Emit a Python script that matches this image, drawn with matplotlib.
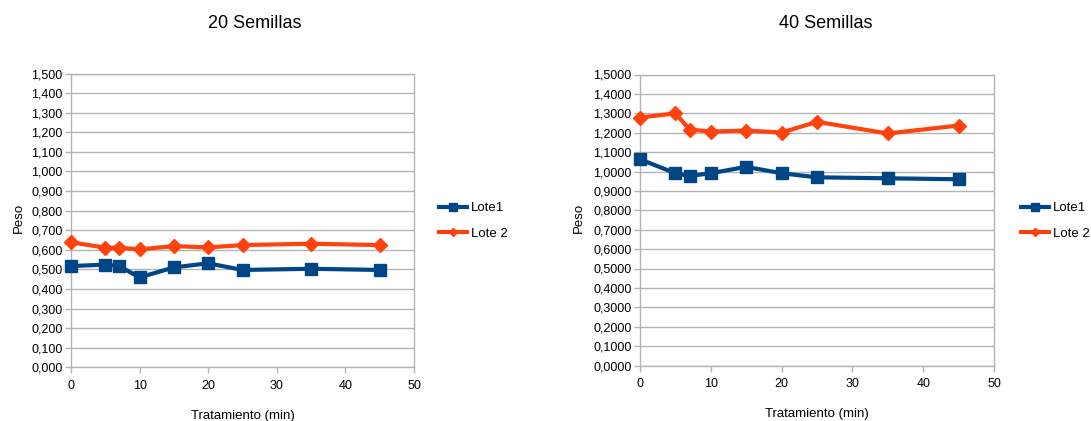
import matplotlib
matplotlib.use("Agg")
import matplotlib.pyplot as plt
from matplotlib.ticker import FuncFormatter, MultipleLocator

plt.rcParams['font.family'] = ['Liberation Sans', 'DejaVu Sans']

tiempo = [0, 5, 7, 10, 15, 20, 25, 35, 45]
s20_lote1 = [0.517, 0.524, 0.517, 0.459, 0.510, 0.531, 0.497, 0.503, 0.497]
s20_lote2 = [0.638, 0.611, 0.611, 0.602, 0.619, 0.612, 0.624, 0.631, 0.624]
s40_lote1 = [1.063, 0.991, 0.977, 0.991, 1.024, 0.991, 0.970, 0.965, 0.960]
s40_lote2 = [1.278, 1.300, 1.216, 1.206, 1.211, 1.201, 1.256, 1.196, 1.237]
titles = ["20 Semillas", "40 Semillas"]
series_names = ["Lote1", "Lote 2"]

BLUE = "#004586"
ORANGE = "#ff420e"
GRID = "#b3b3b3"

W, H = 1091, 421
fig = plt.figure(figsize=(W / 100, H / 100), dpi=100)

def px_axes(l, r, t, b):
    return fig.add_axes([l / W, (H - b) / H, (r - l) / W, (b - t) / H])

ax_px = [(71, 414, 73.5, 367.3), (640, 994, 74.5, 365.5)]
axes = [px_axes(*p) for p in ax_px]
data = [(s20_lote1, s20_lote2), (s40_lote1, s40_lote2)]
decimals = [3, 4]
legend_x = [439, 1021]
title_x = [255, 826]
ylabel_x = [24.5, 584.5]

for i, ax in enumerate(axes):
    l1, l2 = data[i]
    h1, = ax.plot(tiempo, l1, color=BLUE, lw=3, marker='s', ms=9, zorder=3, clip_on=False)
    h2, = ax.plot(tiempo, l2, color=ORANGE, lw=3, marker='D', ms=7.5, zorder=3, clip_on=False)
    ax.set_xlim(0, 50)
    ax.set_ylim(0, 1.5)
    ax.xaxis.set_major_locator(MultipleLocator(10))
    ax.yaxis.set_major_locator(MultipleLocator(0.1))
    d = decimals[i]
    ax.yaxis.set_major_formatter(FuncFormatter(lambda v, p, d=d: f"{v:.{d}f}".replace('.', ',')))
    ax.grid(axis='y', color=GRID, lw=1)
    ax.set_axisbelow(True)
    for s in ax.spines.values():
        s.set_color(GRID)
        s.set_linewidth(1)
    ax.tick_params(axis='both', colors=GRID, labelcolor='black', labelsize=9, length=4, width=1)
    ax.tick_params(axis='x', pad=5)
    ax.tick_params(axis='y', pad=2)
    ax.set_xlabel("Tratamiento (min)", fontsize=9.5, labelpad=13)
    ax.set_ylabel("Peso", fontsize=9.5)
    l, r, t, b = ax_px[i]
    ax.yaxis.set_label_coords((ylabel_x[i] - l) / (r - l), (b - 218) / (b - t))
    fig.text(title_x[i] / W, (H - 23) / H, titles[i], ha='center', va='center', fontsize=13)
    fig.legend([h1, h2], series_names, loc='center left',
               bbox_to_anchor=(legend_x[i] / W, (H - 221) / H), frameon=False,
               borderaxespad=0, borderpad=0,
               fontsize=9.5, handlelength=2.1, handletextpad=0.3, labelspacing=1.0,
               markerscale=0.6)

fig.savefig("out.png", dpi=100)
